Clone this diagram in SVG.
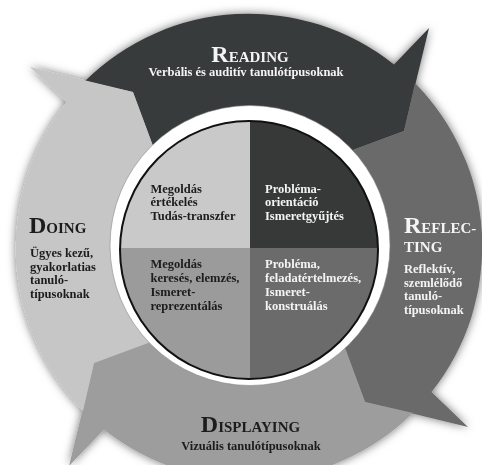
<svg xmlns="http://www.w3.org/2000/svg" width="482" height="465" viewBox="0 0 482 465">
  <style>
    text { font-family: "Liberation Serif", "Times New Roman", serif; font-weight: bold; }
    .cap { font-size: 24px; }
    .sc { font-size: 15px; }
    .desc { font-size: 12.5px; }
    .hub { font-size: 12.5px; }
    .light { fill: #f4f4f4; }
    .dark { fill: #1c1c1c; }
  </style>
  <defs>
    <!-- one arrow of the cycle, centred on the hub; the tail notch follows the head of the previous arrow -->
    <path id="arrow" d="M -164 -166 A 233 233 0 0 1 145 -182.5 L 180 -219 L 155 -116 L 93 -93 A 131.5 131.5 0 0 0 -93 -93 L -116 -155 Z"/>
    <filter id="shadow" x="-10%" y="-10%" width="120%" height="120%">
      <feDropShadow dx="0" dy="0" stdDeviation="5" flood-color="#000" flood-opacity="0.55"/>
    </filter>
    <clipPath id="hubClip">
      <circle cx="249" cy="250" r="129"/>
    </clipPath>
  </defs>

  <rect width="482" height="465" fill="#ffffff"/>

  <!-- cycle arrows -->
  <g id="connectors" filter="url(#shadow)" transform="translate(249 247)">
    <use id="arrow-reading" href="#arrow" fill="#383a3a"/>
    <use id="arrow-reflecting" href="#arrow" fill="#6b6b6b" transform="rotate(90)"/>
    <use id="arrow-displaying" href="#arrow" fill="#9d9d9d" transform="rotate(180)"/>
    <use id="arrow-doing" href="#arrow" fill="#c6c6c6" transform="rotate(270)"/>
  </g>

  <!-- central hub -->
  <g id="hub">
    <circle cx="250" cy="245.5" r="140" fill="#ffffff" stroke="#8a8a8a" stroke-width="0.6"/>
    <g clip-path="url(#hubClip)">
      <rect x="100" y="100" width="150" height="148" fill="#c9c9c9"/>
      <rect x="250" y="100" width="150" height="148" fill="#373939"/>
      <rect x="100" y="248" width="150" height="150" fill="#9b9b9b"/>
      <rect x="250" y="248" width="150" height="150" fill="#6b6b6b"/>
    </g>
    <circle cx="249" cy="250" r="129" fill="none" stroke="#111111" stroke-width="2"/>
  </g>

  <g id="hub-evaluation">
    <text class="hub dark" x="150.5" y="192.5">Megoldás</text>
    <text class="hub dark" x="150.5" y="206">értékelés</text>
    <text class="hub dark" x="150.5" y="219.5">Tudás-transzfer</text>
  </g>
  <g id="hub-orientation">
    <text class="hub light" x="265" y="192.5">Probléma-</text>
    <text class="hub light" x="265" y="206">orientáció</text>
    <text class="hub light" x="265" y="219.5">Ismeretgyűjtés</text>
  </g>
  <g id="hub-search">
    <text class="hub dark" x="150.5" y="267.5">Megoldás</text>
    <text class="hub dark" x="150.5" y="281.5">keresés, elemzés,</text>
    <text class="hub dark" x="150.5" y="295.5">Ismeret-</text>
    <text class="hub dark" x="150.5" y="309.5">reprezentálás</text>
  </g>
  <g id="hub-construction">
    <text class="hub light" x="265" y="267.5">Probléma,</text>
    <text class="hub light" x="265" y="281.5">feladatértelmezés,</text>
    <text class="hub light" x="265" y="295.5">Ismeret-</text>
    <text class="hub light" x="265" y="309.5">konstruálás</text>
  </g>

  <!-- stage labels -->
  <g id="reading">
    <text class="light" x="250" y="62" text-anchor="middle"><tspan class="cap">R</tspan><tspan class="sc">EADING</tspan></text>
    <text class="desc light" x="246" y="76" text-anchor="middle">Verbális és auditív tanulótípusoknak</text>
  </g>
  <g id="reflecting">
    <text class="light" x="404" y="233"><tspan class="cap">R</tspan><tspan class="sc">EFLEC-</tspan></text>
    <text class="sc light" x="404" y="252">TING</text>
    <text class="desc light" x="404" y="273">Reflektív,</text>
    <text class="desc light" x="404" y="286.5">szemlélődő</text>
    <text class="desc light" x="404" y="300">tanuló-</text>
    <text class="desc light" x="404" y="313.5">típusoknak</text>
  </g>
  <g id="displaying">
    <text class="dark" x="250.5" y="432" text-anchor="middle"><tspan class="cap">D</tspan><tspan class="sc">ISPLAYING</tspan></text>
    <text class="desc dark" x="251" y="450" text-anchor="middle">Vizuális tanulótípusoknak</text>
  </g>
  <g id="doing">
    <text class="dark" x="29" y="233"><tspan class="cap">D</tspan><tspan class="sc">OING</tspan></text>
    <text class="desc dark" x="30" y="257">Ügyes kezű,</text>
    <text class="desc dark" x="30" y="270.5">gyakorlatias</text>
    <text class="desc dark" x="30" y="284">tanuló-</text>
    <text class="desc dark" x="30" y="297.5">típusoknak</text>
  </g>
</svg>
